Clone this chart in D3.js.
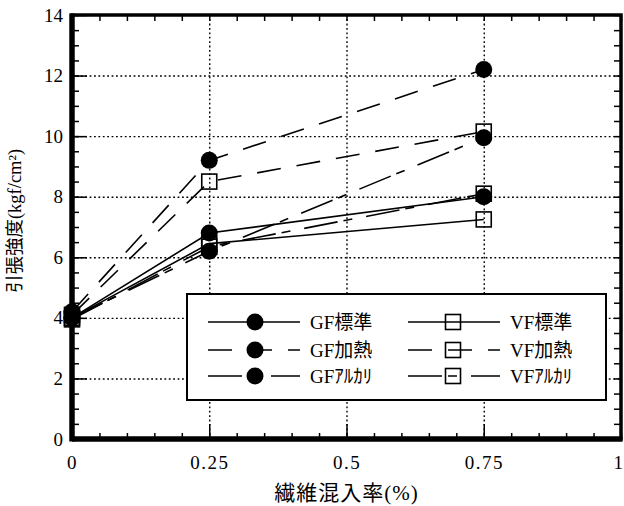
<!DOCTYPE html>
<html>
<head>
<meta charset="utf-8">
<script src="https://cdn.jsdelivr.net/npm/d3@7"></script>
<style>
  body { margin: 0; background: #fff; }
  text { fill: #000; }
</style>
</head>
<body>
<script>
// Data
const xTickValues = [0, 0.25, 0.5, 0.75, 1];
const xTickLabels = ["0", "0.25", "0.5", "0.75", "1"];
const yTickValues = [0, 2, 4, 6, 8, 10, 12, 14];
const fiberRates = [0, 0.25, 0.75];
const seriesNames = ["GF標準", "GF加熱", "GFｱﾙｶﾘ", "VF標準", "VF加熱", "VFｱﾙｶﾘ"];
const gfStandard = [4.0, 6.8, 8.0];
const gfHeated = [4.2, 9.2, 12.2];
const gfAlkali = [4.0, 6.2, 9.95];
const vfStandard = [4.0, 6.45, 7.25];
const vfHeated = [4.1, 8.5, 10.15];
const vfAlkali = [3.95, 6.35, 8.1];
const seriesValues = [gfStandard, gfHeated, gfAlkali, vfStandard, vfHeated, vfAlkali];

// Styles per series: marker and dash
const markers = ["circle", "circle", "circle", "square", "square", "square"];
const dashes = [null, "24,16", "34,6,9,14", null, "24,16", "34,6,9,14"];

const width = 624, height = 506;
const serif = "'Liberation Serif', 'DejaVu Serif', serif";
const jp = "'Liberation Serif', 'Noto Sans CJK JP', serif";

const x = d3.scaleLinear().domain([0, 1]).range([72, 621]);
const y = d3.scaleLinear().domain([0, 14]).range([439, 15]);

const svg = d3.select("body").append("svg")
  .attr("width", width)
  .attr("height", height);

//Dotted grid lines.
svg.append("g")
  .attr("transform", `translate(0,${y(0)})`)
  .call(d3.axisBottom(x).tickValues([0.25, 0.5, 0.75]).tickSize(-(y(0) - y(14))).tickFormat(""))
  .call(g => g.select(".domain").remove())
  .selectAll("line")
  .attr("stroke", "#000").attr("stroke-width", 1.4).attr("stroke-dasharray", "1.8,2.6");

svg.append("g")
  .attr("transform", `translate(${x(0)},0)`)
  .call(d3.axisLeft(y).tickValues([2, 4, 6, 8, 10, 12]).tickSize(-(x(1) - x(0))).tickFormat(""))
  .call(g => g.select(".domain").remove())
  .selectAll("line")
  .attr("stroke", "#000").attr("stroke-width", 1.4).attr("stroke-dasharray", "1.8,2.6");

//Tick marks on all four sides.
function ticks(axis, transform) {
  svg.append("g")
    .attr("transform", transform)
    .call(axis.tickFormat(""))
    .call(g => g.select(".domain").remove())
    .selectAll("line").attr("stroke", "#000").attr("stroke-width", 1.5);
}
const xMinor = d3.range(0, 1.0001, 0.05);
const yMinor = d3.range(0, 14.001, 0.5);
ticks(d3.axisBottom(x).tickValues(xMinor).tickSize(-6), `translate(0,${y(0)})`);
ticks(d3.axisBottom(x).tickValues([0.25, 0.5, 0.75]).tickSize(-15), `translate(0,${y(0)})`);
ticks(d3.axisTop(x).tickValues(xMinor).tickSize(-6), `translate(0,${y(14)})`);
ticks(d3.axisLeft(y).tickValues(yMinor).tickSize(-7), `translate(${x(0)},0)`);
ticks(d3.axisLeft(y).tickValues(yTickValues).tickSize(-15), `translate(${x(0)},0)`);
ticks(d3.axisRight(y).tickValues(yMinor).tickSize(-7), `translate(${x(1)},0)`);

//Frame: heavier on the left and bottom.
svg.append("rect")
  .attr("x", x(0)).attr("y", y(14))
  .attr("width", x(1) - x(0)).attr("height", y(0) - y(14))
  .attr("fill", "none").attr("stroke", "#000").attr("stroke-width", 3.5);
svg.append("line")
  .attr("x1", x(0)).attr("x2", x(0)).attr("y1", y(14) - 1.5).attr("y2", y(0) + 2.5)
  .attr("stroke", "#000").attr("stroke-width", 5.5);
svg.append("line")
  .attr("x1", x(0)).attr("x2", x(1) + 1.5).attr("y1", y(0)).attr("y2", y(0))
  .attr("stroke", "#000").attr("stroke-width", 5.5);

//Tick labels.
svg.append("g")
  .attr("transform", `translate(0,${y(0)})`)
  .call(d3.axisBottom(x).tickValues(xTickValues).tickSize(0).tickPadding(17)
    .tickFormat((d, i) => xTickLabels[i]))
  .call(g => g.select(".domain").remove())
  .selectAll("text")
  .attr("font-family", serif).attr("font-size", 19).attr("letter-spacing", 1.5)
  .attr("text-anchor", d => d === 1 ? "end" : "middle")
  .attr("dx", d => d === 1 ? 3 : 0);

svg.append("g")
  .attr("transform", `translate(${x(0) - 9},0)`)
  .call(d3.axisLeft(y).tickValues(yTickValues).tickSize(0).tickPadding(0))
  .call(g => g.select(".domain").remove())
  .selectAll("text")
  .attr("font-family", serif).attr("font-size", 19);

//Axis titles.
svg.append("text")
  .attr("x", x(0.5)).attr("y", 500)
  .attr("text-anchor", "middle")
  .attr("font-family", jp).attr("font-size", 21).attr("letter-spacing", 1)
  .text("繊維混入率(%)");

svg.append("text")
  .attr("transform", `translate(21,${y(7.2)}) rotate(-90)`)
  .attr("text-anchor", "middle")
  .attr("font-family", jp).attr("font-size", 18.5)
  .text("引張強度(kgf/cm²)");

//Series lines.
const line = d3.line().x((d, i) => x(fiberRates[i])).y(d => y(d));
seriesValues.forEach((vals, k) => {
  svg.append("path")
    .datum(vals)
    .attr("d", line)
    .attr("fill", "none")
    .attr("stroke", "#000")
    .attr("stroke-width", 1.6)
    .attr("stroke-dasharray", dashes[k]);
});

//Markers.
function drawMarker(g, type, cx, cy) {
  if (type === "circle") {
    g.append("circle").attr("cx", cx).attr("cy", cy).attr("r", 8.5).attr("fill", "#000");
  } else {
    g.append("rect").attr("x", cx - 7.5).attr("y", cy - 7.5).attr("width", 15).attr("height", 15)
      .attr("fill", "none").attr("stroke", "#000").attr("stroke-width", 1.6);
  }
}
const markerLayer = svg.append("g");
[3, 4, 5, 0, 1, 2].forEach(k => {
  seriesValues[k].forEach((v, i) => drawMarker(markerLayer, markers[k], x(fiberRates[i]), y(v)));
});

//Legend.
const legend = svg.append("g");
legend.append("rect")
  .attr("x", 187).attr("y", 294).attr("width", 419).attr("height", 106)
  .attr("fill", "#fff").attr("stroke", "#000").attr("stroke-width", 2);
const rowY = [322, 350, 376];
seriesNames.forEach((name, k) => {
  const col = k < 3 ? 0 : 1;
  const ry = rowY[k % 3];
  const x0 = col === 0 ? 208 : 408;
  legend.append("line")
    .attr("x1", x0).attr("x2", x0 + 92).attr("y1", ry).attr("y2", ry)
    .attr("stroke", "#000").attr("stroke-width", 1.6)
    .attr("stroke-dasharray", dashes[k]);
  drawMarker(legend, markers[k], x0 + (col === 0 ? 47 : 45), ry);
  legend.append("text")
    .attr("x", x0 + 102).attr("y", ry + 7)
    .attr("font-family", jp).attr("font-size", 19)
    .text(name);
});
</script>
</body>
</html>
